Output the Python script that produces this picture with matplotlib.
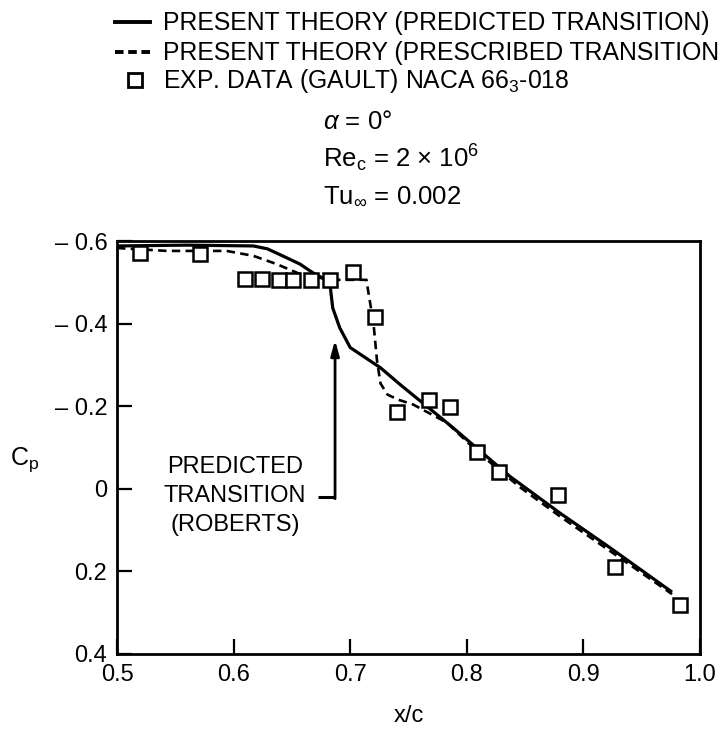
import matplotlib
matplotlib.use("Agg")
import matplotlib.pyplot as plt
from matplotlib.lines import Line2D

plt.rcParams['font.family'] = ['Liberation Sans', 'DejaVu Sans']
plt.rcParams['mathtext.fontset'] = 'custom'
plt.rcParams['mathtext.rm'] = 'Liberation Sans'
plt.rcParams['mathtext.it'] = 'Liberation Sans:italic'
plt.rcParams['mathtext.bf'] = 'Liberation Sans:bold'
plt.rcParams['mathtext.fallback'] = 'stixsans'

# ---------------- data ----------------
exp_x = [0.520, 0.571, 0.610, 0.624, 0.639, 0.651, 0.666, 0.683, 0.702, 0.721,
         0.740, 0.768, 0.786, 0.809, 0.828, 0.878, 0.927, 0.983]
exp_cp = [-0.571, -0.569, -0.508, -0.508, -0.506, -0.506, -0.506, -0.506, -0.525, -0.416,
          -0.185, -0.216, -0.197, -0.088, -0.040, 0.016, 0.190, 0.282]

pred_x = [0.500, 0.560, 0.617, 0.629, 0.642, 0.657, 0.668, 0.678, 0.683, 0.685,
          0.691, 0.700, 0.726, 0.743, 0.786, 0.837, 0.880, 0.923, 0.976]
pred_cp = [-0.588, -0.590, -0.588, -0.581, -0.564, -0.544, -0.523, -0.508, -0.487, -0.438,
           -0.390, -0.342, -0.293, -0.252, -0.153, -0.030, 0.059, 0.143, 0.250]

presc_x = [0.500, 0.543, 0.594, 0.617, 0.637, 0.657, 0.683, 0.714, 0.715, 0.720,
           0.723, 0.726, 0.732, 0.741, 0.754, 0.783, 0.811, 0.846, 0.880, 0.923, 0.976]
presc_cp = [-0.583, -0.576, -0.576, -0.564, -0.544, -0.520, -0.506, -0.506, -0.486, -0.400,
            -0.310, -0.255, -0.228, -0.216, -0.204, -0.160, -0.085, -0.003, 0.067, 0.151, 0.255]

x_ticks = [0.5, 0.6, 0.7, 0.8, 0.9, 1.0]
x_tick_labels = ['0.5', '0.6', '0.7', '0.8', '0.9', '1.0']
y_ticks = [-0.6, -0.4, -0.2, 0.0, 0.2, 0.4]
y_tick_labels = ['\u2013 0.6', '\u2013 0.4', '\u2013 0.2', '0', '0.2', '0.4']

legend_labels = ['PRESENT THEORY (PREDICTED TRANSITION)',
                 'PRESENT THEORY (PRESCRIBED TRANSITION',
                 'EXP. DATA (GAULT) NACA 66$_3$-018']
conditions = [r'$\alpha$ = 0°',
              r'Re$_\mathrm{c}$ = 2 × 10$^6$',
              r'Tu$_{\infty}$ = 0.002']

# ---------------- figure ----------------
W, H = 721, 730
fig = plt.figure(figsize=(W / 100, H / 100), dpi=100)

def fx(px):
    return px / W

def fy(py):
    return 1 - py / H

ax = fig.add_axes([fx(117), fy(654), fx(700) - fx(117), fy(241) - fy(654)])

FS = 17
LEG_FS = 17.8
COND_FS = 18.5
LW = 2.3
dash = (0, (3.2, 2.0))

ax.plot(pred_x, pred_cp, color='black', lw=LW, solid_capstyle='butt', zorder=2)
ax.plot(presc_x, presc_cp, color='black', lw=1.9, linestyle=dash, zorder=2)
ax.plot(exp_x, exp_cp, linestyle='none', marker='s', markersize=9.5,
        markerfacecolor='white', markeredgecolor='black', markeredgewidth=1.8, zorder=3)

ax.set_xlim(0.5, 1.0)
ax.set_ylim(0.4, -0.6)
ax.set_xticks(x_ticks)
ax.set_xticklabels(x_tick_labels)
ax.set_yticks(y_ticks)
ax.set_yticklabels(y_tick_labels)
ax.tick_params(direction='in', length=11, width=1.6, labelsize=FS, pad=7,
               top=False, right=False)
for s in ax.spines.values():
    s.set_linewidth(2.0)

ax.set_xlabel('x/c', fontsize=FS, labelpad=14)

fig.text(fx(10), fy(460), r'C$_\mathrm{p}$', fontsize=FS + 1, ha='left', va='center')

# annotation: predicted transition
ax.annotate('', xy=(0.687, -0.36), xytext=(0.687, 0.024),
            arrowprops=dict(arrowstyle='-|>,head_length=0.9,head_width=0.25',
                            color='black', lw=2.0, shrinkA=0, shrinkB=0))
ax.plot([0.672, 0.687], [0.021, 0.021], color='black', lw=2.2, solid_capstyle='butt')
ax.text(0.601, 0.018, 'PREDICTED\nTRANSITION\n(ROBERTS)', fontsize=FS,
        ha='center', va='center', multialignment='center', linespacing=1.4)

# ---------------- legend (manual) ----------------
rows_y = [22, 52, 80]
LX = 163
fig.add_artist(Line2D([fx(LX - 48), fx(LX - 13)], [fy(rows_y[0])] * 2, color='black', lw=2.8,
                      transform=fig.transFigure))
fig.add_artist(Line2D([fx(LX - 48), fx(LX - 13)], [fy(rows_y[1])] * 2, color='black', lw=2.8,
                      linestyle=(0, (2.2, 1.2)), transform=fig.transFigure))
fig.add_artist(Line2D([fx(LX - 28)], [fy(rows_y[2])], marker='s', markersize=9.5,
                      markerfacecolor='white', markeredgecolor='black',
                      markeredgewidth=2.0, linestyle='none', transform=fig.transFigure))
for lab, yy in zip(legend_labels, rows_y):
    fig.text(fx(LX), fy(yy + 8), lab, fontsize=LEG_FS, ha='left', va='baseline')

for txt, yb in zip(conditions, [129, 167, 203]):
    fig.text(fx(323), fy(yb), txt, fontsize=COND_FS, ha='left', va='baseline')

fig.savefig('out.png', dpi=100)
